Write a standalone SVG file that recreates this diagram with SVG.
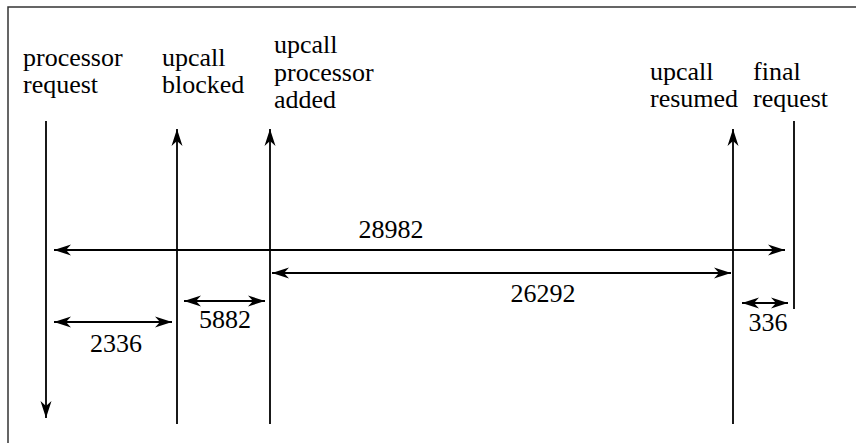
<svg xmlns="http://www.w3.org/2000/svg" width="856" height="443" viewBox="0 0 856 443">
<style>
  .n { text-anchor: middle; }
  .ln { stroke: #000; stroke-width: 1.8; fill: none; }
  .frame { stroke: #333; stroke-width: 1.5; fill: none; }
</style>
<defs>
  <marker id="ah" markerUnits="userSpaceOnUse" markerWidth="18" markerHeight="12" refX="17" refY="6" orient="auto-start-reverse" viewBox="0 0 18 12">
    <path d="M17,6 L0,0.5 L5,6 L0,11.5 Z" fill="#000"/>
  </marker>
</defs>
<path class="frame" d="M8,443 L8,7 L856,7"/>
<g id="labels" font-family="Liberation Serif, serif" font-size="26" fill="#000">
  <g id="n-processor-request"><text x="23" y="66">processor</text><text x="23" y="93">request</text></g>
  <g id="n-upcall-blocked"><text x="162" y="66">upcall</text><text x="162" y="93">blocked</text></g>
  <g id="n-upcall-processor-added"><text x="274" y="53">upcall</text><text x="274" y="81">processor</text><text x="274" y="108">added</text></g>
  <g id="n-upcall-resumed"><text x="650" y="80">upcall</text><text x="650" y="107">resumed</text></g>
  <g id="n-final-request"><text x="753" y="80">final</text><text x="753" y="107">request</text></g>
</g>
<g id="connectors">
  <line class="ln" x1="46" y1="121" x2="46" y2="418" marker-end="url(#ah)"/>
  <line class="ln" x1="177" y1="424" x2="177" y2="129" marker-end="url(#ah)"/>
  <line class="ln" x1="270" y1="424" x2="270" y2="129" marker-end="url(#ah)"/>
  <line class="ln" x1="733" y1="424" x2="733" y2="129" marker-end="url(#ah)"/>
  <line class="ln" x1="794" y1="121" x2="794" y2="309"/>
  <line class="ln" x1="54" y1="250" x2="785" y2="250" marker-start="url(#ah)" marker-end="url(#ah)"/>
  <line class="ln" x1="272" y1="273" x2="731" y2="273" marker-start="url(#ah)" marker-end="url(#ah)"/>
  <line class="ln" x1="184" y1="301" x2="265" y2="301" marker-start="url(#ah)" marker-end="url(#ah)"/>
  <line class="ln" x1="54" y1="322" x2="172" y2="322" marker-start="url(#ah)" marker-end="url(#ah)"/>
  <line class="ln" x1="742" y1="303" x2="788" y2="303" marker-start="url(#ah)" marker-end="url(#ah)"/>
</g>
<g id="values" font-family="Liberation Serif, serif" font-size="26" fill="#000">
  <text class="n" x="391" y="238">28982</text>
  <text class="n" x="543" y="302">26292</text>
  <text class="n" x="225" y="328">5882</text>
  <text class="n" x="116" y="352">2336</text>
  <text class="n" x="768" y="331">336</text>
</g>
</svg>
